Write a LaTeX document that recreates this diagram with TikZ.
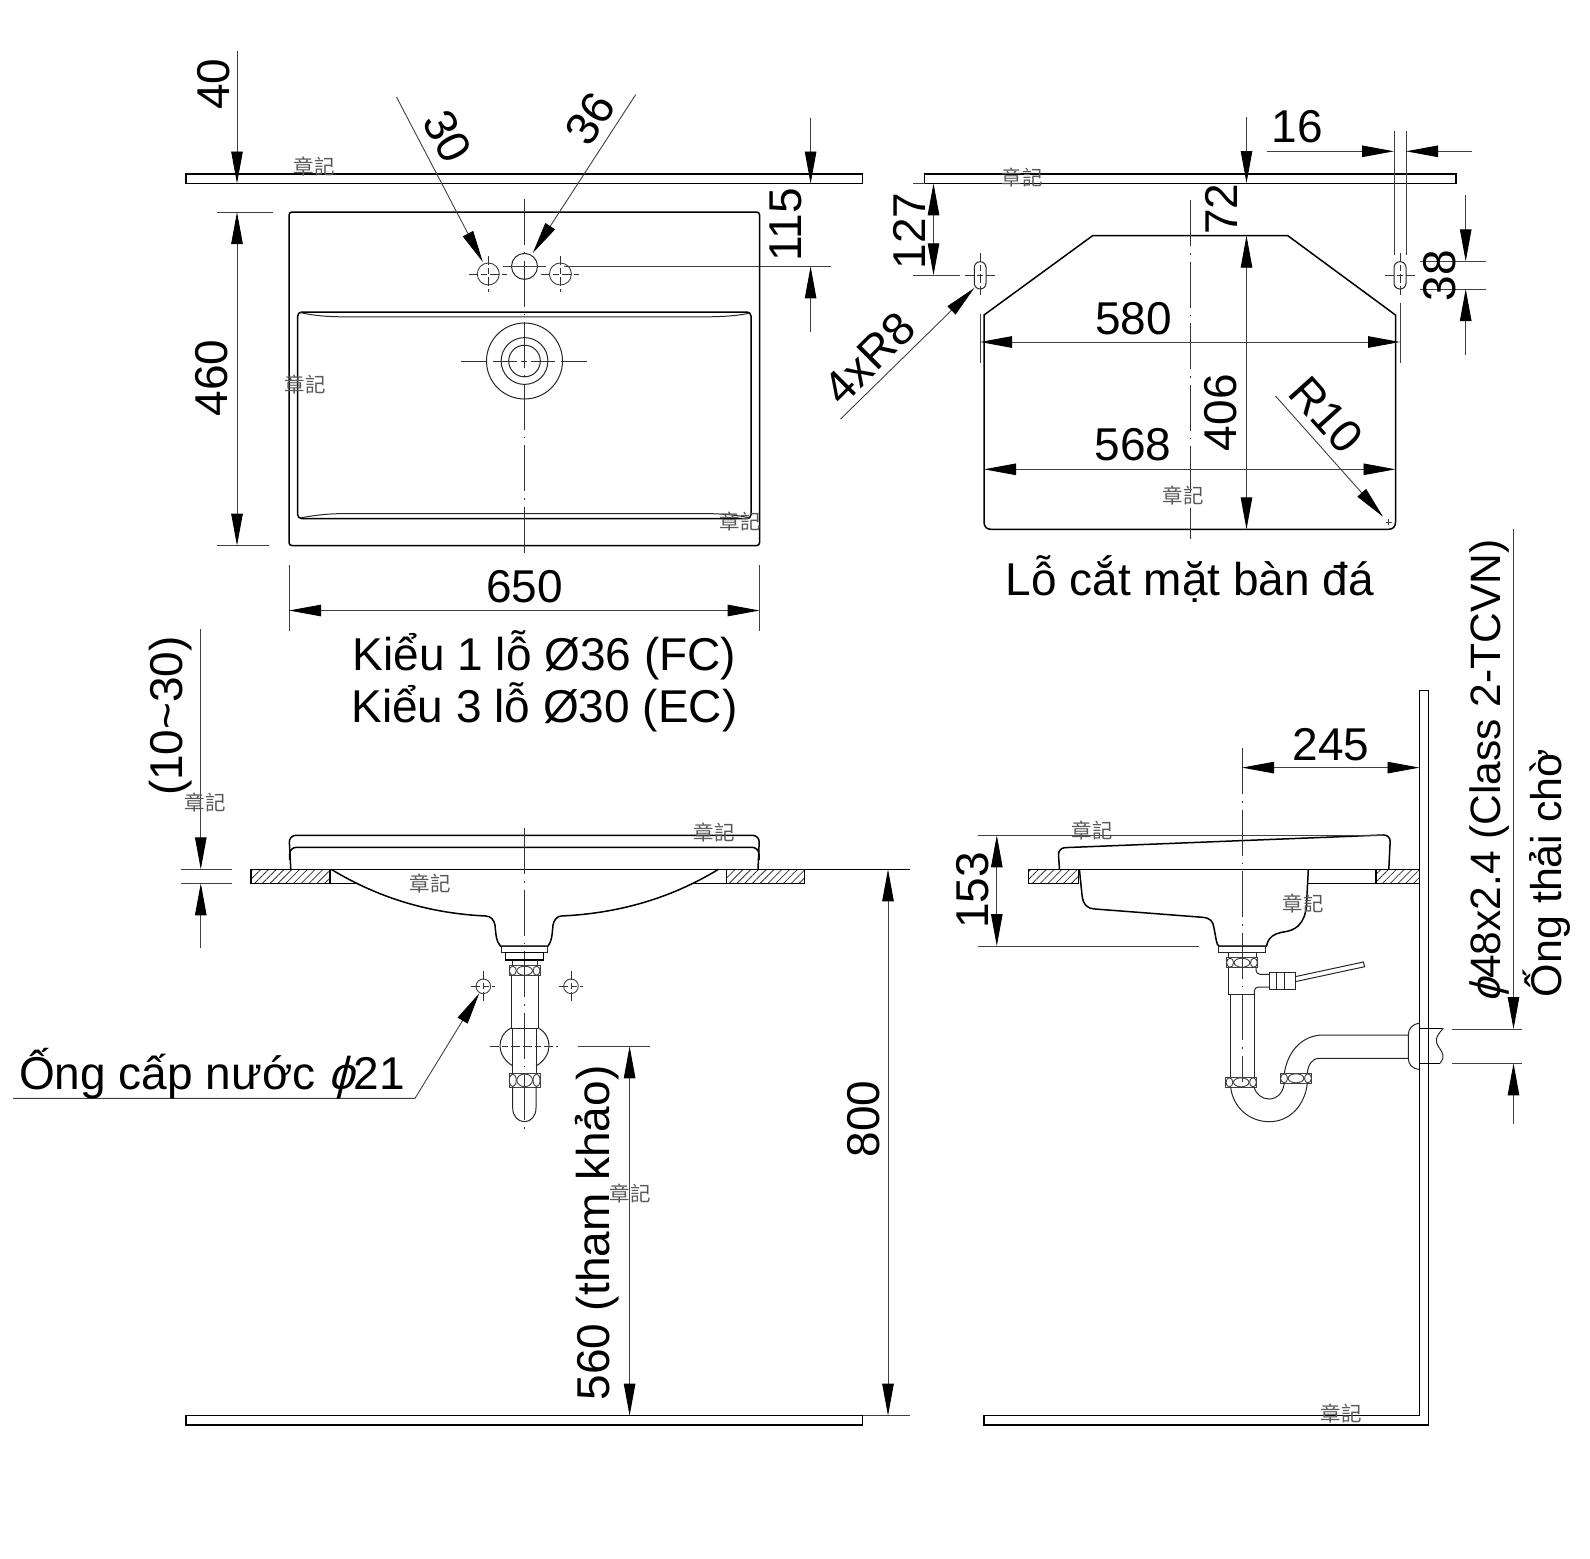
\documentclass[tikz,border=0pt]{standalone}
\usepackage{fontspec}
\setmainfont{Liberation Sans}
\newfontfamily\cjk{Noto Sans CJK TC}
\usetikzlibrary{arrows.meta}
\usetikzlibrary{patterns.meta}
\newcommand{\bigtxt}{\fontsize{46}{55}\selectfont}
\newcommand{\hexnut}[4]{% x1 y1 x2 y2
  \draw[thinln] (#1,#2) rectangle (#3,#4);
  \draw[thinln] ({(#1+#3)/2},{(#2+#4)/2}) ellipse [x radius={(#3-#1)*.25pt}, y radius={(#4-#2)*.45pt}];
  \draw[thinln] ({#1+(#3-#1)*.12},{(#2+#4)/2}) ellipse [x radius={(#3-#1)*.11pt}, y radius={(#4-#2)*.45pt}];
  \draw[thinln] ({#3-(#3-#1)*.12},{(#2+#4)/2}) ellipse [x radius={(#3-#1)*.11pt}, y radius={(#4-#2)*.45pt}];
}
\newcommand{\crosshair}[4]{% x y half-width half-height
  \draw[centerln, dash pattern=on 9pt off 3pt on 6pt off 3pt on 9pt off 3pt] ({#1-#3},#2) -- ({#1+#3},#2);
  \draw[centerln, dash pattern=on 9pt off 3pt on 6pt off 3pt on 9pt off 3pt] (#1,{#2-#4}) -- (#1,{#2+#4});
}
\tikzset{
  outln/.style={line width=1.5pt, black},
  pipeln/.style={line width=1pt, black!85},
  thinln/.style={line width=.9pt, black!75},
  centerln/.style={line width=.9pt, black!80, dash pattern=on 46pt off 7pt on 1.5pt off 7pt},
  dimtxt/.style={font=\bigtxt, inner sep=0pt},
  stamp/.style={font=\cjk\fontsize{20.5}{20.5}\selectfont, text=black!65, inner sep=0pt},
  hatched/.style={pattern={Lines[angle=45,distance=5.5pt,line width=.8pt]}, pattern color=black!80},
  >={Triangle[length=32pt,width=11.5pt,color=black,fill=black]}
}
\begin{document}
\begin{tikzpicture}[x=1pt,y=-1pt]
  \useasboundingbox (0,0) rectangle (1590,1558);

  % top view: wall plate
  \draw[outln] (186,174) rectangle (862.5,183.5);
  \draw[thinln,->] (237,51) -- (237,183.5);
  \node[dimtxt,rotate=90] (t40) at (214,84) {40};
  \draw[thinln,->] (810.6,117.5) -- (810.6,183.5);
  \draw[thinln,->] (810.6,332) -- (810.6,266.4);
  \draw[thinln] (564,266.4) -- (831,266.4);
  \node[dimtxt,rotate=90] (t115) at (786,225) {115};

  % top view: basin
  \draw[outln,rounded corners=3pt] (289,212) rectangle (759.6,545.6);
  \draw[outln,rounded corners=4pt] (297.7,518.6) -- (297.7,312) -- (751,312) -- (751,518.6) -- cycle;
  \draw[pipeln] (300,312.5) .. controls (315,316) and (330,316.8) .. (343.7,316.8) -- (706,316.8) .. controls (720,316.8) and (738,316) .. (750,313);
  \draw[pipeln] (300,518) .. controls (315,515) and (330,513.6) .. (343.7,513.6) -- (706,513.6) .. controls (720,513.6) and (738,515) .. (750,518);
  \draw[centerln] (524.5,199) -- (524.5,554);
  \draw[centerln, dash pattern=on 26pt off 6pt on 24pt off 4pt on 6pt off 4pt on 24pt off 6pt on 26pt] (461,361) -- (587,361);
  \draw[pipeln] (524.5,361) circle [radius=38];
  \draw[pipeln] (524.5,361) circle [radius=23.4];
  \draw[pipeln] (524.5,361) circle [radius=15.8];

  % top view: tap holes
  \draw[pipeln] (524.5,266.4) circle [radius=13];
  \draw[thinln] (488.3,274) circle [radius=11];
  \draw[thinln] (560.4,274) circle [radius=11];
  \crosshair{488.3}{274}{19}{18}
  \crosshair{560.4}{274}{19}{18}
  \draw[thinln] (503,266.4) -- (546,266.4);
  \draw[thinln,->] (396.5,97) -- (482.8,262);
  \draw[thinln,->] (635.7,94.6) -- (532.8,253);
  \node[dimtxt,rotate=-62] (t30) at (447,136.4) {30};
  \node[dimtxt,rotate=57] (t36) at (590,118.6) {36};

  % top view: sizes
  \draw[thinln] (216.5,212) -- (272.5,212);
  \draw[thinln] (216.5,545.6) -- (269,545.6);
  \draw[thinln,<->] (237,212) -- (237,545.6);
  \node[dimtxt,rotate=90] (t460) at (212,378) {460};
  \draw[thinln] (289,565) -- (289,631);
  \draw[thinln] (759.6,565) -- (759.6,631);
  \draw[thinln,<->] (289,610.5) -- (759.6,610.5);
  \node[dimtxt] (t650) at (524.5,587) {650};
  \node[dimtxt] (tkieu1) at (544.5,655) {Kiểu 1 lỗ Ø36 (FC)};
  \node[dimtxt] (tkieu3) at (544.5,707) {Kiểu 3 lỗ Ø30 (EC)};

  % cut-out: plate and outline
  \draw[outln] (924.5,174) rectangle (1456,183.3);
  \draw[thinln] (913,183.3) -- (924.5,183.3);
  \draw[outln] (1092.6,235.7) -- (984,315) -- (984,522) .. controls (984,527) and (987,529.3) .. (991,529.3) -- (1388.5,529.3) .. controls (1392.5,529.3) and (1395.5,527) .. (1395.5,522) -- (1395.5,315) -- (1287.8,235.7) -- cycle;
  \draw[centerln] (1190,200) -- (1190,539.3);

  % cut-out: slots
  \draw[pipeln,rounded corners=5.8pt] (974.3,261.7) rectangle (986,289);
  \draw[pipeln,rounded corners=5.8pt] (1394,261.7) rectangle (1406,289);
  \draw[thinln] (913,275.3) -- (960,275.3);
  \crosshair{980}{275.3}{15}{22}
  \crosshair{1400}{275.3}{15}{22}

  % cut-out: sizes
  \draw[thinln,<->] (933.5,183.3) -- (933.5,275.3);
  \node[dimtxt,rotate=90] (t127) at (909,231) {127};
  \draw[thinln,->] (1246.5,117) -- (1246.5,183);
  \draw[thinln,<->] (1246.5,235.7) -- (1246.5,529.3);
  \node[dimtxt,rotate=90] (t72) at (1221,209) {72};
  \node[dimtxt,rotate=90] (t406) at (1221,412.7) {406};
  \draw[thinln] (1394,131) -- (1394,255);
  \draw[thinln] (1406,131) -- (1406,255);
  \draw[thinln,->] (1266.5,151.3) -- (1394,151.3);
  \draw[thinln,->] (1472,151.3) -- (1406,151.3);
  \node[dimtxt] (t16) at (1297.5,127) {16};
  \draw[thinln] (1420,261.3) -- (1486,261.3);
  \draw[thinln] (1420,289) -- (1486,289);
  \draw[thinln,->] (1465.7,195) -- (1465.7,261.3);
  \draw[thinln,->] (1465.7,355) -- (1465.7,289);
  \node[dimtxt,rotate=90] (t38) at (1439.6,275.7) {38};
  \draw[thinln] (980,314) -- (980,362.7);
  \draw[thinln] (1400,303) -- (1400,362.7);
  \draw[thinln,<->] (980,342) -- (1400,342);
  \node[dimtxt] (t580) at (1133.6,318.7) {580};
  \draw[thinln,<->] (984,469.3) -- (1395.5,469.3);
  \node[dimtxt] (t568) at (1133,445) {568};
  \draw[thinln,->] (1275.5,396) -- (1383,516.7);
  \draw[thinln] (1385.6,522) -- (1391.6,522);
  \draw[thinln] (1388.6,519) -- (1388.6,525);
  \node[dimtxt,rotate=-48] (tr10) at (1326,415) {R10};
  \draw[thinln,->] (840.6,419) -- (974.3,288);
  \node[dimtxt,rotate=45] (t4xr8) at (869,358) {4xR8};
  \node[dimtxt] (tcut) at (1190,579) {Lỗ cắt mặt bàn đá};

  % front view: counter
  \draw[outln] (186,1415.6) rectangle (862.5,1425);
  \draw[thinln] (862.5,1415.6) -- (910,1415.6);
  \draw[outln] (251,869.3) -- (910,869.3);
  \draw[outln,hatched] (251,869.3) rectangle (330,883.3);
  \draw[outln,hatched] (726.4,869.3) rectangle (804.7,883.3);
  \draw[outln] (330,883.3) -- (357,883.3);
  \draw[outln] (691,883.3) -- (726.4,883.3);

  % front view: basin
  \draw[outln,rounded corners=7pt] (290.8,869.3) -- (289,835.3) -- (759.5,835.3) -- (758,869.3);
  \draw[outln,rounded corners=7pt] (289.5,860) -- (289.5,847.3) -- (759,847.3) -- (759,860);
  \draw[outln] (331.2,869.3) .. controls (390,905) and (445,914) .. (485.7,916) .. controls (491,916) and (494,920) .. (495,925) .. controls (496,935) and (496,941) .. (500.4,946)
    -- (548,946) .. controls (552,941) and (552,935) .. (553,925) .. controls (554,920) and (557,916) .. (561.4,916) .. controls (603,914) and (660,905) .. (718.4,869.3);
  \draw[centerln] (524.4,828) -- (524.4,1130);

  % front view: waste
  \draw[pipeln] (501.3,946) rectangle (547.7,952.7);
  \draw[outln] (505.3,952.7) rectangle (543.5,960);
  \draw[pipeln] (512,960) -- (512,965.7);
  \draw[pipeln] (537,960) -- (537,965.7);
  \hexnut{509}{965.7}{540.3}{975.7}
  \draw[pipeln] (511,975.7) -- (511,1028);
  \draw[pipeln] (538.3,975.7) -- (538.3,1028);
  \draw[pipeln] (511,1028) .. controls (496,1036) and (496,1056) .. (513,1066);
  \draw[pipeln] (538.3,1028) .. controls (553,1036) and (553,1056) .. (536,1066);
  \draw[pipeln] (511,1028) -- (538.3,1028);
  \draw[pipeln] (512.7,1028) -- (512.7,1073.3);
  \draw[pipeln] (536,1028) -- (536,1073.3);
  \hexnut{509}{1073.3}{540.3}{1087.3}
  \draw[pipeln] (512.7,1087.3) -- (512.7,1108) .. controls (512.7,1116) and (518,1121.7) .. (524.4,1121.7) .. controls (531,1121.7) and (536,1116) .. (536,1108) -- (536,1087.3);
  \crosshair{524.4}{1046.3}{34}{1}

  % front view: supply holes
  \draw[thinln] (483.3,986.3) circle [radius=7.3];
  \draw[thinln] (571,986.3) circle [radius=7.3];
  \crosshair{483.3}{986.3}{12}{15}
  \crosshair{571}{986.3}{12}{15}
  \draw[thinln,->] (13,1098.3) -- (415,1098.3) -- (479.3,993.3);
  \node[dimtxt] (tsupply) at (212,1074) {Ống cấp nước {\addfontfeature{FakeSlant=.25}ϕ}21};

  % front view: sizes
  \draw[thinln] (180.5,869.3) -- (232,869.3);
  \draw[thinln] (180.5,883.3) -- (232,883.3);
  \draw[thinln,->] (200.8,629) -- (200.8,869.3);
  \draw[thinln,->] (200.8,948) -- (200.8,883.3);
  \node[dimtxt,rotate=90] (t1030) at (171,716) {(10\textasciitilde30)};
  \draw[thinln,<->] (888,869.3) -- (888,1415.6);
  \node[dimtxt,rotate=90] (t800) at (864,1119) {800};
  \draw[thinln] (578.3,1046.3) -- (650,1046.3);
  \draw[thinln,<->] (629.6,1046.3) -- (629.6,1415.6);
  \node[dimtxt,rotate=90] (t560) at (597,1233) {560 (tham khảo)};

  % side view: wall and counter
  \draw[outln] (984,1415.6) -- (1419.5,1415.6) -- (1419.5,690.5) -- (1428.7,690.5) -- (1428.7,1425) -- (984,1425) -- cycle;
  \draw[outln] (1028.4,869.3) -- (1419.5,869.3);
  \draw[outln,hatched] (1028.4,869.3) rectangle (1078.4,883.3);
  \draw[outln,hatched] (1376,869.3) rectangle (1419.5,883.3);
  \draw[outln] (1308.3,883.3) -- (1376,883.3);

  % side view: basin
  \draw[outln,rounded corners=7pt] (1059.5,869.3) -- (1058,847.9) -- (1390.5,834.7) -- (1388.8,869.3);
  \draw[outln] (1079.4,869.3) -- (1082,895) .. controls (1083,905) and (1088,909) .. (1095,909) -- (1202.8,917.3) .. controls (1210,918) and (1213,921) .. (1214,928) -- (1216.4,941) .. controls (1217,944) and (1218,946) .. (1219,946) -- (1266.4,946)
    .. controls (1268,940) and (1270,936.7) .. (1276,934) .. controls (1282,931) and (1290,933) .. (1298,926) .. controls (1304,920) and (1306,913) .. (1306.5,905) -- (1308.3,869.3);
  \draw[centerln] (1242,748) -- (1242,1082);

  % side view: trap
  \draw[pipeln] (1218.4,946) rectangle (1265.7,952.3);
  \draw[pipeln] (1228.7,952.3) -- (1228.7,957.7);
  \draw[pipeln] (1256,952.3) -- (1256,957.7);
  \hexnut{1226.3}{957.7}{1257.7}{967.7}
  \draw[pipeln,rounded corners=4pt] (1256,967.7) -- (1256,974.3) -- (1269.3,974.3);
  \draw[pipeln,rounded corners=4pt] (1269.3,987) -- (1254.3,987) -- (1254.3,994);
  \draw[pipeln] (1228.7,967.7) -- (1228.7,994) -- (1255,994);
  \draw[pipeln] (1269.3,972.3) rectangle (1295,989.3);
  \draw[pipeln] (1276.7,972.3) -- (1276.7,989.3);
  \draw[pipeln] (1284,972.3) -- (1284,989.3);
  \draw[pipeln] (1295,976.7) -- (1363.3,962) -- (1364.7,966.7) -- (1295,981.7);
  \draw[pipeln] (1230,994) -- (1230,1077.3);
  \draw[pipeln] (1254.3,994) -- (1254.3,1077.3);
  \hexnut{1225.7}{1077.3}{1256.7}{1087.3}
  \hexnut{1280.3}{1073.3}{1311.7}{1083.3}
  \draw[pipeln] (1230.7,1087.3) .. controls (1233,1108) and (1250,1121.7) .. (1269.3,1121.7) .. controls (1290,1121.7) and (1305,1105) .. (1307.3,1083.3);
  \draw[pipeln] (1254,1087.3) .. controls (1256,1094) and (1262,1099) .. (1269,1099) .. controls (1277,1099) and (1283,1093) .. (1284.3,1083.3);
  \draw[pipeln] (1284.3,1073.3) .. controls (1288,1050) and (1303,1035) .. (1323.3,1035) -- (1408.3,1035);
  \draw[pipeln] (1307.3,1073.3) .. controls (1308,1065) and (1312,1058.3) .. (1319.3,1058.3) -- (1408.3,1058.3);
  \draw[pipeln] (1419.5,1023.3) .. controls (1412,1024) and (1408.3,1029) .. (1408.3,1035) -- (1408.3,1058.3) .. controls (1408.3,1064) and (1412,1069) .. (1419.5,1069.3);
  \draw[outln] (1443.3,1028.3) -- (1419.5,1028.3);
  \draw[outln] (1440,1063.3) -- (1419.5,1063.3);
  \draw[pipeln] (1443.3,1028.3) .. controls (1434,1038) and (1436,1042) .. (1438,1046) .. controls (1442,1052) and (1446,1056) .. (1440,1063.3);

  % side view: sizes
  \draw[thinln] (978,835.3) -- (1384,835.3);
  \draw[thinln] (978,946) -- (1198.8,946);
  \draw[thinln,<->] (996.8,835.3) -- (996.8,946);
  \node[dimtxt,rotate=90] (t153) at (973,890.3) {153};
  \draw[thinln,<->] (1242,767.6) -- (1419.5,767.6);
  \node[dimtxt] (t245) at (1331,745) {245};
  \draw[thinln] (1452,1029) -- (1521.6,1029);
  \draw[thinln] (1452,1063.3) -- (1521.6,1063.3);
  \draw[thinln,->] (1513.5,529) -- (1513.5,1029);
  \draw[thinln,->] (1513.5,1123.5) -- (1513.5,1063.3);
  \node[dimtxt,font=\fontsize{42.5}{50}\selectfont,rotate=90] (tclass) at (1489,771) {{\addfontfeature{FakeSlant=.25}ϕ}48x2.4 (Class 2-TCVN)};
  \node[dimtxt,font=\fontsize{43}{50}\selectfont,rotate=90] (tdrain) at (1547,873) {Ống thải chờ};

  % stamps
  \foreach \sx/\sy in {314/167, 305/385, 740/522, 1022/178, 1183/496, 205/803, 714/833, 430/884, 1092/831, 1303/904, 630/1194, 1341/1414}
    \node[stamp] at (\sx,\sy) {章記};
\end{tikzpicture}
\end{document}
